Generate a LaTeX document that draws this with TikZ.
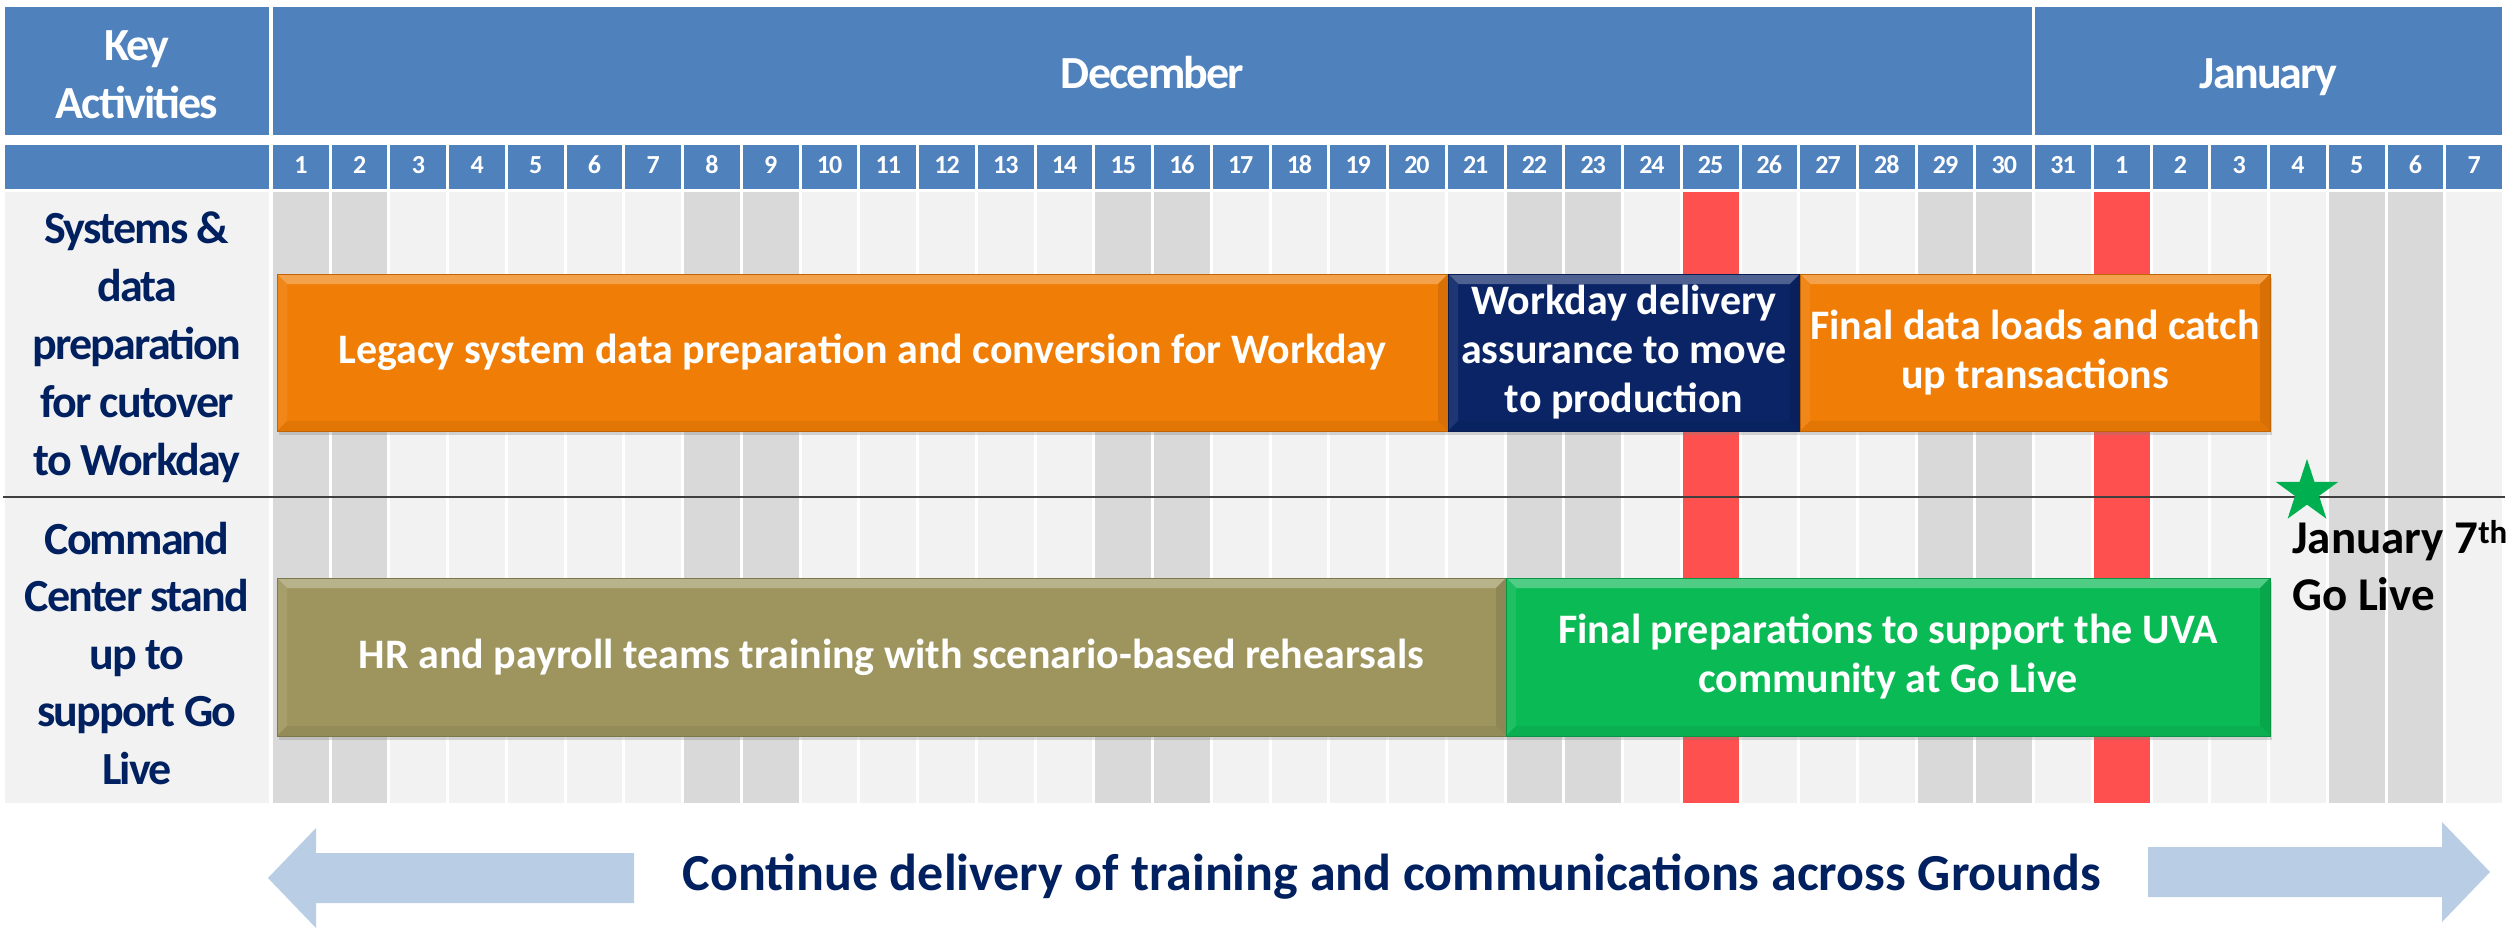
\documentclass[tikz,border=0pt]{standalone}
\usepackage{fontspec}
\setmainfont{Carlito}
\newfontfamily\tightcal{Carlito}[LetterSpace=-4]
\usetikzlibrary{shapes.geometric,shadows}

\definecolor{hdrblue}{RGB}{79,129,189}
\definecolor{wkday}{RGB}{242,242,242}
\definecolor{wkend}{RGB}{217,217,217}
\definecolor{holiday}{RGB}{255,80,80}
\definecolor{navytext}{RGB}{0,32,96}
\definecolor{barorange}{RGB}{240,125,5}
\definecolor{barnavy}{RGB}{10,36,102}
\definecolor{barolive}{RGB}{158,149,94}
\definecolor{bargreen}{RGB}{10,186,85}
\definecolor{stargreen}{RGB}{0,176,80}
\definecolor{arrowblue}{RGB}{185,205,229}
\definecolor{rulegray}{RGB}{64,64,64}

\newcommand\gHead{\tightcal\bfseries\fontsize{46}{58}\selectfont}
\newcommand\gDay{\tightcal\bfseries\fontsize{26}{30}\selectfont}
\newcommand\gBar{\bfseries\fontsize{42}{49}\selectfont}
\newcommand\gGo{\bfseries\fontsize{47}{57}\selectfont}
\newcommand\gFoot{\bfseries\fontsize{52}{60}\selectfont}

\def\colpitch{58.74}
\def\bev{10pt}

\begin{document}
\begin{tikzpicture}[x=1pt,y=-1pt,
  hdrtext/.style={text=white, font=\gHead, inner sep=0pt, anchor=base},
  labtext/.style={text=navytext, font=\gHead, inner sep=0pt, anchor=base},
  daytext/.style={text=white, font=\gDay, inner sep=0pt, anchor=base},
  golabel/.style={text=black, font=\gGo, inner sep=0pt, anchor=base west},
  foottext/.style={text=navytext, font=\gFoot, inner sep=0pt, anchor=base},
  % bevelled activity bar: light top/left faces, darker bottom/right faces
  barbox/.style={rectangle, inner sep=0pt, outer sep=0pt, fill=#1,
    draw=#1!80!black, line width=0.8pt, text=white, font=\gBar, align=center,
    drop shadow={shadow xshift=2pt, shadow yshift=-4pt, opacity=0.3},
    path picture={
      \fill[#1!72!white]
        (path picture bounding box.north west) -- (path picture bounding box.north east)
        -- ([xshift=-\bev,yshift=-\bev]path picture bounding box.north east)
        -- ([xshift=\bev,yshift=-\bev]path picture bounding box.north west) -- cycle;
      \fill[#1!92!white]
        (path picture bounding box.north west) -- (path picture bounding box.south west)
        -- ([xshift=\bev,yshift=\bev]path picture bounding box.south west)
        -- ([xshift=\bev,yshift=-\bev]path picture bounding box.north west) -- cycle;
      \fill[#1!94!black]
        (path picture bounding box.south west) -- (path picture bounding box.south east)
        -- ([xshift=-\bev,yshift=\bev]path picture bounding box.south east)
        -- ([xshift=\bev,yshift=\bev]path picture bounding box.south west) -- cycle;
      \fill[#1!90!black]
        (path picture bounding box.north east) -- (path picture bounding box.south east)
        -- ([xshift=-\bev,yshift=\bev]path picture bounding box.south east)
        -- ([xshift=-\bev,yshift=-\bev]path picture bounding box.north east) -- cycle;
    }},
  milestone/.style={star, star points=5, star point ratio=2.618, fill=stargreen,
    inner sep=0pt, minimum size=66pt},
  band/.style={fill=arrowblue}
]
\useasboundingbox (0,0) rectangle (2519,927);
\fill[white] (0,0) rectangle (2519,927);

% month header row
\fill[hdrblue] (5,7) rectangle (269,135);
\fill[hdrblue] (273,7) rectangle (2032.2,135);
\fill[hdrblue] (2035.2,7) rectangle (2502,135);
\node[hdrtext] (key1) at (137,60) {Key};
\node[hdrtext] (key2) at (137,118) {Activities};
\node[hdrtext] (dec) at (1152.6,88) {December};
\node[hdrtext] (jan) at (2268.6,88) {January};

% day numbers and calendar columns
\fill[hdrblue] (5,145) rectangle (269,189);
\fill[wkday] (5,192) rectangle (269,803);
\foreach \i in {1,...,38}{
  \pgfmathsetmacro\xl{273+(\i-1)*\colpitch}
  \pgfmathsetmacro\xr{\xl+\colpitch-3}
  \pgfmathtruncatemacro\dn{\i>31 ? \i-31 : \i}
  \fill[hdrblue] (\xl,145) rectangle (\xr,189);
  \fill[wkday] (\xl,192) rectangle (\xr,803);
  \node[daytext] (day\i) at ({(\xl+\xr)/2},173) {\dn};
}
% weekends
\foreach \i in {1,2,8,9,15,16,22,23,29,30,36,37}{
  \pgfmathsetmacro\xl{273+(\i-1)*\colpitch}
  \pgfmathsetmacro\xr{\xl+\colpitch-3}
  \fill[wkend] (\xl,192) rectangle (\xr,803);
}
% Christmas and New Year's Day
\foreach \i in {25,32}{
  \pgfmathsetmacro\xl{273+(\i-1)*\colpitch}
  \pgfmathsetmacro\xr{\xl+\colpitch-3}
  \fill[holiday] (\xl,192) rectangle (\xr,803);
}

% row divider
\draw[rulegray, line width=2pt] (3,497) -- (2505,497);

% row labels
\foreach \t [count=\k] in {Systems \&, data, preparation, for cutover, to Workday}
  \node[labtext] (sys\k) at (137,{243+(\k-1)*58}) {\t};
\foreach \t [count=\k] in {Command, Center stand, up to, support Go, Live}
  \node[labtext] (cmd\k) at (137,{554+(\k-1)*57.5}) {\t};

% activity bars
\node[barbox=barorange, minimum width=1171pt, minimum height=157pt] (legacy)
  at (862.5,352.5) {Legacy system data preparation and conversion for Workday};
\node[barbox=barnavy, minimum width=352pt, minimum height=157pt] (assure)
  at (1624,352.5) {Workday delivery\\assurance to move\\to production};
\node[barbox=barorange, minimum width=470pt, minimum height=157pt] (loads)
  at (2035,352.5) {Final data loads and catch\\up transactions};
\node[barbox=barolive, minimum width=1229pt, minimum height=158pt] (training)
  at (891.5,657) {HR and payroll teams training with scenario-based rehearsals};
\node[barbox=bargreen, minimum width=764pt, minimum height=158pt] (finalprep)
  at (1888,657) {Final preparations to support the UVA\\community at Go Live};

% go-live milestone
\node[milestone] (golive) at (2307,492) {};
\node[golabel] (go1) at (2292,553) {January 7\textsuperscript{th}};
\node[golabel] (go2) at (2292,610) {Go Live};

% ongoing activity arrows
\fill[band] (268,878) -- (316,828) -- (316,853) -- (634,853) -- (634,903)
  -- (316,903) -- (316,928) -- cycle;
\fill[band] (2490,872) -- (2442,822) -- (2442,847) -- (2148,847) -- (2148,897)
  -- (2442,897) -- (2442,922) -- cycle;
\node[foottext] (footer) at (1392,890)
  {Continue delivery of training and communications across Grounds};
\end{tikzpicture}
\end{document}
